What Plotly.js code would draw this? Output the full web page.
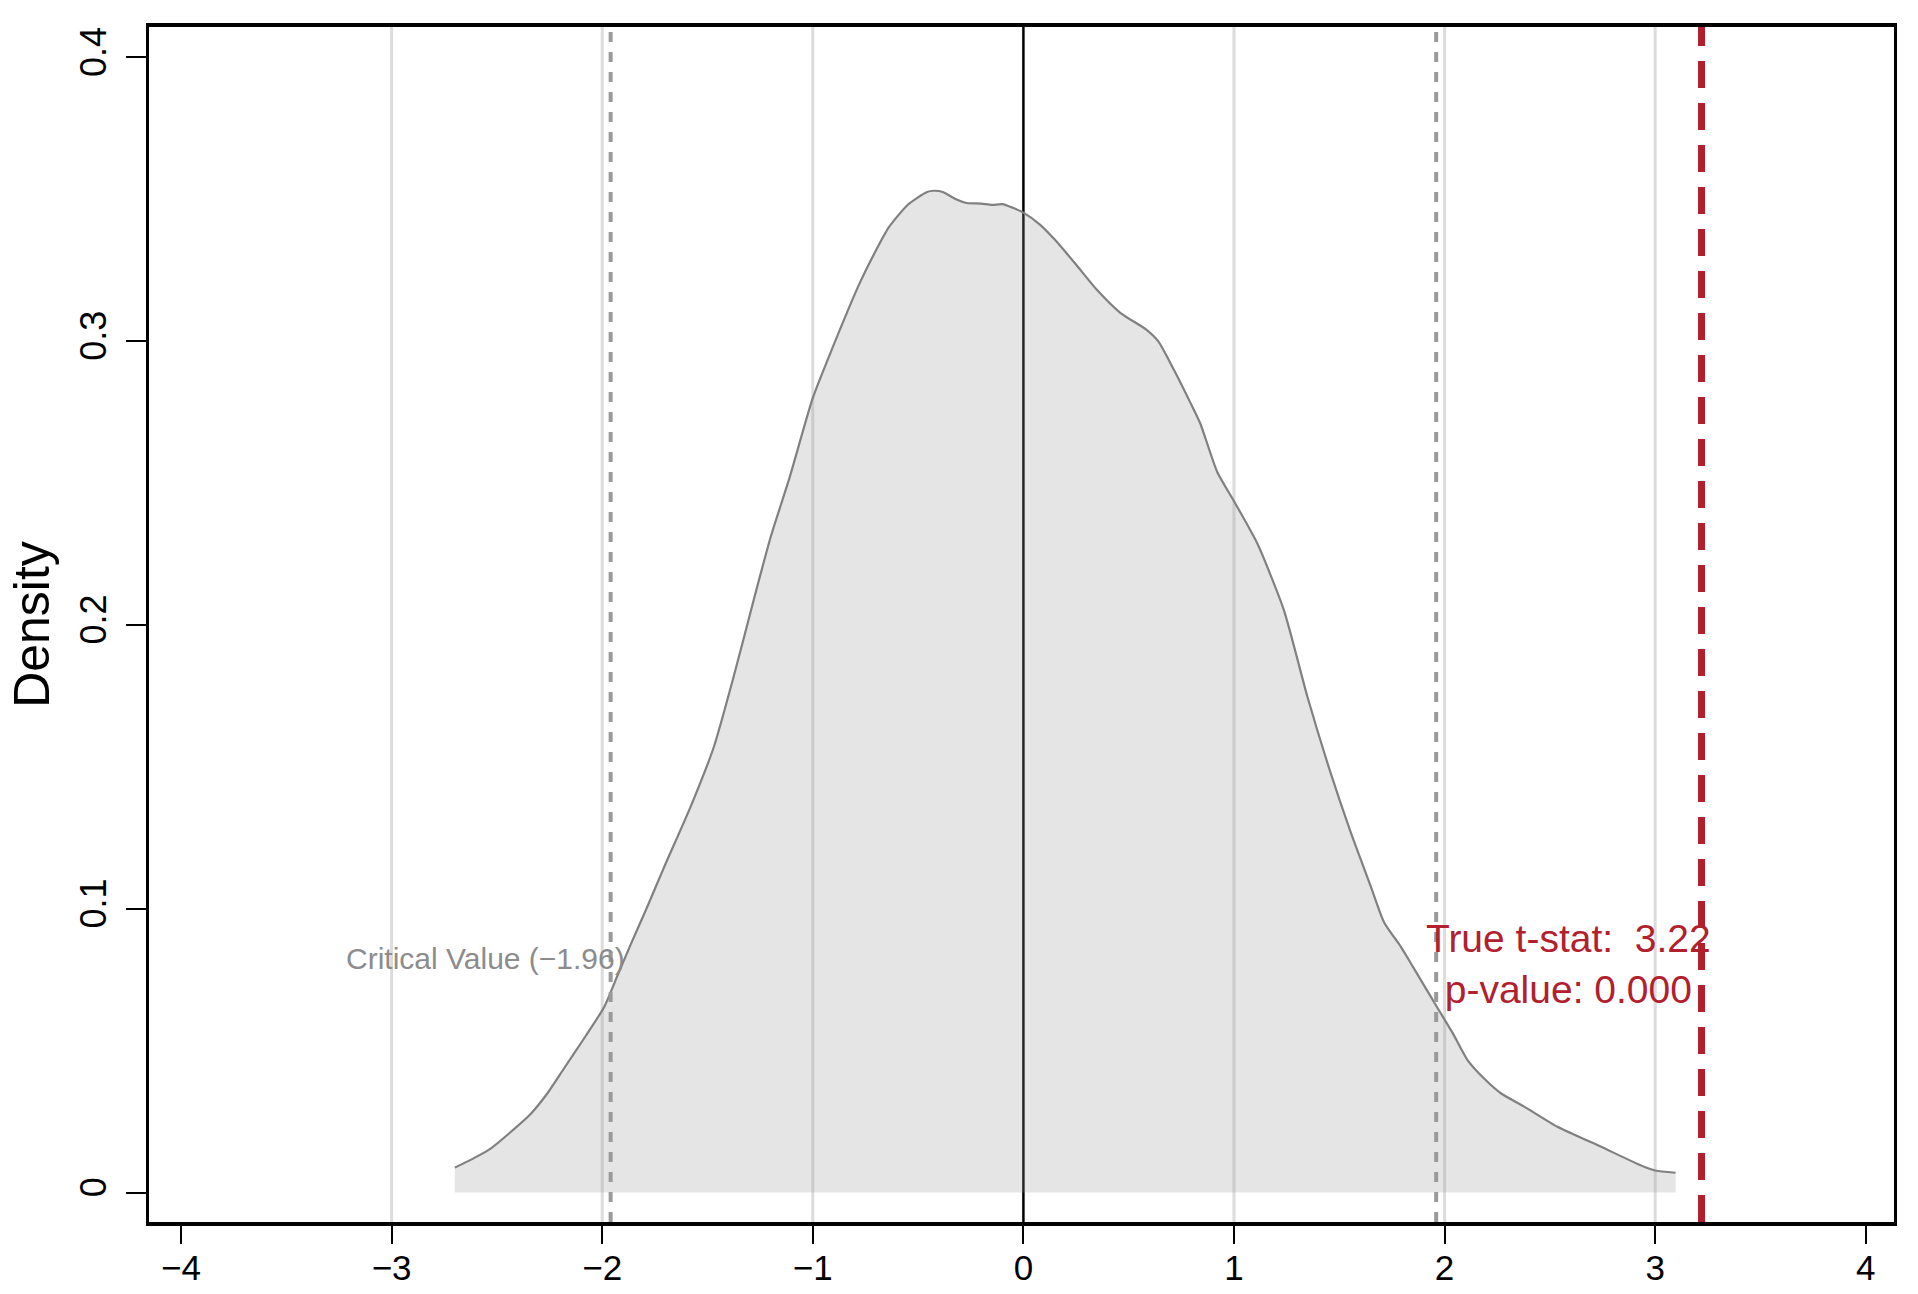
<!DOCTYPE html>
<html>
<head>
<meta charset="utf-8">
<script src="https://cdn.plot.ly/plotly-3.0.1.min.js"></script>
<style>
  html, body { margin: 0; padding: 0; background: #fff; }
</style>
</head>
<body>
<div id="chart"></div>
<script>
// permutation density of the t statistic
var tVals = [-2.70, -2.60, -2.53, -2.44, -2.34, -2.26, -2.18, -2.08, -1.99, -1.93,
             -1.866, -1.79, -1.71, -1.58, -1.47, -1.375, -1.28, -1.20, -1.11, -1.00,
             -0.91, -0.78, -0.70, -0.64, -0.55, -0.46, -0.425, -0.38, -0.32, -0.27,
             -0.20, -0.15, -0.10, -0.05, 0.00, 0.08, 0.15, 0.25, 0.35, 0.46,
             0.585, 0.64, 0.714, 0.795, 0.84, 0.92, 1.005, 1.111, 1.238, 1.349,
             1.46, 1.554, 1.649, 1.713, 1.792, 1.839, 1.963, 2.04, 2.109, 2.19,
             2.267, 2.378, 2.536, 2.741, 2.947, 3.00, 3.097];
var density = [0.0088, 0.0125, 0.0155, 0.0210, 0.0277, 0.0350, 0.0439, 0.0550, 0.0655, 0.0760,
               0.0872, 0.1000, 0.1140, 0.1360, 0.1570, 0.1820, 0.2090, 0.2310, 0.2520, 0.2800,
               0.2970, 0.3200, 0.3320, 0.3400, 0.3480, 0.3525, 0.3530, 0.3525, 0.3500, 0.3487,
               0.3485, 0.3480, 0.3483, 0.3470, 0.3453, 0.3410, 0.3357, 0.3270, 0.3180, 0.3100,
               0.3040, 0.3000, 0.2900, 0.2780, 0.2710, 0.2540, 0.2430, 0.2287, 0.2050, 0.1746,
               0.1476, 0.1270, 0.1080, 0.0952, 0.0867, 0.0809, 0.0655, 0.0560, 0.0467, 0.0400,
               0.0350, 0.0303, 0.0232, 0.0162, 0.0091, 0.0078, 0.0070];

var critValues = [-1.96, 1.96];
var trueTStat = 3.22;
var pValue = 0.000;

var xTicks = [-4, -3, -2, -1, 0, 1, 2, 3, 4];
var xTickLabels = ['\u22124', '\u22123', '\u22122', '\u22121', '0', '1', '2', '3', '4'];
var yTicks = [0, 0.1, 0.2, 0.3, 0.4];
var yTickLabels = ['0', '0.1', '0.2', '0.3', '0.4'];
var gridAt = [-3, -2, -1, 1, 2, 3];

var red = '#B2202E';
var fontFam = '"Liberation Sans", Arial, Helvetica, sans-serif';

var data = [{
    type: 'scatter',
    mode: 'lines',
    x: tVals,
    y: density,
    fill: 'tozeroy',
    fillcolor: 'rgba(150,150,150,0.25)',
    line: {color: '#808080', width: 2.2, shape: 'spline', smoothing: 0.6},
    hoverinfo: 'x+y',
    showlegend: false
}];

var shapes = [];
// light vertical grid
gridAt.forEach(function (g) {
    shapes.push({type: 'line', xref: 'x', yref: 'paper', x0: g, x1: g, y0: 0, y1: 1,
                 layer: 'below', line: {color: '#DCDCDC', width: 3}});
});
// zero line
shapes.push({type: 'line', xref: 'x', yref: 'paper', x0: 0, x1: 0, y0: 0, y1: 1,
             layer: 'below', line: {color: '#000000', width: 2.5}});
// critical values
critValues.forEach(function (c) {
    shapes.push({type: 'line', xref: 'x', yref: 'paper', x0: c, x1: c, y0: 0, y1: 1,
                 layer: 'above', line: {color: '#9A9A9A', width: 4, dash: '10px,10px'}});
});
// observed t-stat
shapes.push({type: 'line', xref: 'x', yref: 'paper', x0: trueTStat, x1: trueTStat, y0: 0, y1: 1,
             layer: 'above', line: {color: red, width: 7, dash: '27px,15px'}});

var layout = {
    width: 1918,
    height: 1294,
    margin: {l: 149, r: 24, t: 27, b: 72},
    paper_bgcolor: '#ffffff',
    plot_bgcolor: '#ffffff',
    font: {family: fontFam, color: '#000000'},
    showlegend: false,
    xaxis: {
        range: [-4.152, 4.134],
        tickvals: xTicks,
        ticktext: xTickLabels,
        ticks: 'outside',
        ticklen: 18,
        tickwidth: 2,
        tickcolor: '#000',
        ticklabelstandoff: -6,
        tickfont: {size: 35, family: fontFam, color: '#000'},
        showgrid: false,
        zeroline: false,
        showline: true,
        linecolor: '#000',
        linewidth: 4,
        mirror: true
    },
    yaxis: {
        range: [-0.01036, 0.4107],
        tickvals: yTicks,
        ticktext: yTickLabels,
        tickangle: -90,
        ticks: 'outside',
        ticklen: 20,
        tickwidth: 2,
        tickcolor: '#000',
        ticklabelstandoff: 6,
        tickfont: {size: 36, family: fontFam, color: '#000'},
        showgrid: false,
        zeroline: false,
        showline: true,
        linecolor: '#000',
        linewidth: 3,
        mirror: true,
        title: {text: 'Density', font: {size: 50, family: fontFam, color: '#000'}, standoff: 8}
    },
    shapes: shapes,
    annotations: [
        {
            x: -1.88, y: 0.0825, xref: 'x', yref: 'y',
            text: 'Critical Value (\u22121.96)',
            showarrow: false, xanchor: 'right', yanchor: 'middle',
            font: {size: 30, family: fontFam, color: '#8C8C8C'}
        },
        {
            x: 2.59, y: 0.0805, xref: 'x', yref: 'y',
            text: 'True t-stat:  ' + trueTStat.toFixed(2) + '<br>p-value: ' + pValue.toFixed(3),
            showarrow: false, xanchor: 'center', yanchor: 'middle', align: 'center',
            font: {size: 39, family: fontFam, color: red}
        }
    ]
};

Plotly.newPlot('chart', data, layout, {displayModeBar: false, staticPlot: true});
</script>
</body>
</html>
